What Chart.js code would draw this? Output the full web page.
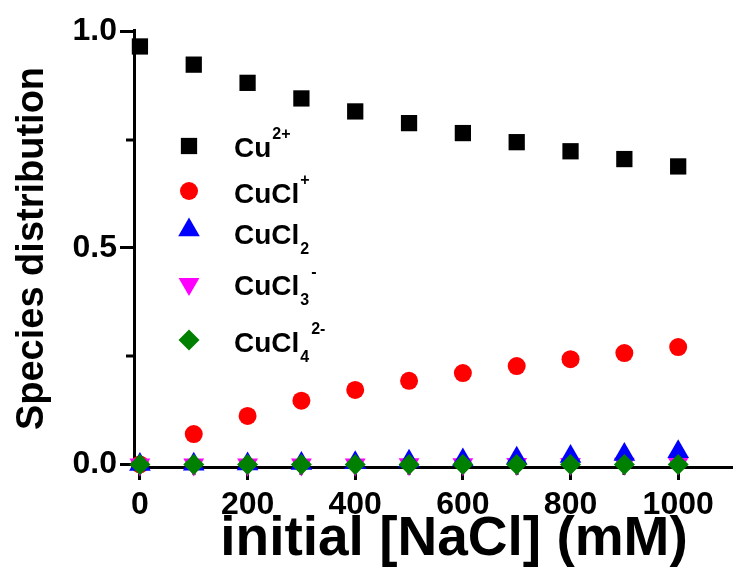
<!DOCTYPE html>
<html>
<head>
<meta charset="utf-8">
<script src="https://cdn.jsdelivr.net/npm/chart.js@4/dist/chart.umd.min.js"></script>
<style>
html, body { margin: 0; padding: 0; background: #fff; }
</style>
</head>
<body>
<canvas id="chart" width="734" height="569"></canvas>
<script>
// initial NaCl concentration (mM) and the species fractions
const nacl = [0, 100, 200, 300, 400, 500, 600, 700, 800, 900, 1000];
const cu2 = [0.965, 0.923, 0.881, 0.845, 0.815, 0.788, 0.765, 0.744, 0.723, 0.705, 0.688];
const cucl = [0, 0.07, 0.112, 0.147, 0.172, 0.193, 0.211, 0.227, 0.243, 0.257, 0.271];
const cucl2 = [0, 0.0005, 0.001, 0.002, 0.004, 0.007, 0.010, 0.014, 0.018, 0.023, 0.029];
const cucl3 = [0, 0, 0, 0, 0, 0.0005, 0.0005, 0.001, 0.001, 0.0015, 0.002];
const cucl4 = [0, 0, 0, 0, 0, 0, 0, 0, 0, 0, 0];

const xTicks = [0, 200, 400, 600, 800, 1000];
const xMinorTicks = [100, 300, 500, 700, 900];
const yTicks = [0, 0.5, 1.0];
const yMinorTicks = [0.25, 0.75];

// legend names, split so the charges and counts can be drawn raised / lowered
const legendNames = [
    {base: 'Cu', sup: '2+'},
    {base: 'CuCl', sup: '+'},
    {base: 'CuCl', sub: '2'},
    {base: 'CuCl', sub: '3', sup: '-'},
    {base: 'CuCl', sub: '4', sup: '2-'}
];

const FONT = "'Liberation Sans', Arial, Helvetica, sans-serif";

function series(values) {
    return values.map((v, i) => ({x: nacl[i], y: v}));
}

function makeSet(label, values, color, style, radius, rotation, order) {
    return {
        label: label,
        data: series(values),
        pointStyle: style,
        pointRadius: radius,
        pointRotation: rotation,
        pointBackgroundColor: color,
        pointBorderWidth: 0,
        backgroundColor: color,
        borderColor: color,
        showLine: false,
        clip: false,
        order: order
    };
}

const datasets = [
    makeSet('Cu²⁺', cu2, '#000000', 'rect', 11.5, 0, 4),
    makeSet('CuCl⁺', cucl, '#ff0000', 'circle', 9, 0, 3),
    makeSet('CuCl₂', cucl2, '#0000ff', 'triangle', 12.5, 0, 1),
    makeSet('CuCl₃⁻', cucl3, '#ff00ff', 'triangle', 12, 180, 2),
    makeSet('CuCl₄²⁻', cucl4, '#008000', 'rectRot', 10.5, 0, 0)
];

// minor ticks, shorter than the major ones
const minorTicks = {
    id: 'minorTicks',
    beforeDatasetsDraw(chart) {
        const ctx = chart.ctx;
        const area = chart.chartArea;
        const xs = chart.scales.x, ys = chart.scales.y;
        ctx.save();
        ctx.strokeStyle = '#000';
        ctx.lineWidth = 3;
        xMinorTicks.forEach(v => {
            const px = Math.round(xs.getPixelForValue(v));
            ctx.beginPath();
            ctx.moveTo(px, area.bottom);
            ctx.lineTo(px, area.bottom + 8);
            ctx.stroke();
        });
        yMinorTicks.forEach(v => {
            const py = Math.round(ys.getPixelForValue(v));
            ctx.beginPath();
            ctx.moveTo(area.left, py);
            ctx.lineTo(area.left - 8, py);
            ctx.stroke();
        });
        ctx.restore();
    }
};

// legend drawn inside the plot, with super/subscripts
const symbolYs = [146, 191, 230, 284, 340];
const textYs = [147, 193, 234, 285, 342];
const innerLegend = {
    id: 'innerLegend',
    afterDraw(chart) {
        const ctx = chart.ctx;
        ctx.save();
        chart.data.datasets.forEach((ds, i) => {
            ctx.fillStyle = ds.pointBackgroundColor;
            Chart.helpers.drawPoint(ctx, {
                pointStyle: ds.pointStyle,
                radius: ds.pointRadius,
                rotation: ds.pointRotation,
                borderWidth: 0
            }, 189, symbolYs[i]);

            const name = legendNames[i];
            const baseY = textYs[i] + 10;
            ctx.fillStyle = '#000';
            ctx.textBaseline = 'alphabetic';
            ctx.textAlign = 'left';
            ctx.font = 'bold 28px ' + FONT;
            ctx.fillText(name.base, 234, baseY);
            let x = 234 + ctx.measureText(name.base).width + 1;
            ctx.font = 'bold 16px ' + FONT;
            let after = x;
            if (name.sub) {
                ctx.fillText(name.sub, x, baseY + 10);
                after = x + ctx.measureText(name.sub).width + 2;
            }
            if (name.sup) {
                ctx.fillText(name.sup, after, baseY - 18);
            }
        });
        ctx.restore();
    }
};

const xTitle = {
    id: 'xTitle',
    afterDraw(chart) {
        const ctx = chart.ctx;
        ctx.save();
        ctx.fillStyle = '#000';
        ctx.font = 'bold 55px ' + FONT;
        ctx.textAlign = 'center';
        ctx.textBaseline = 'middle';
        ctx.fillText('initial [NaCl] (mM)', 454, 540);
        ctx.restore();
    }
};

const tickFont = {family: FONT, size: 32, weight: 'bold'};

new Chart(document.getElementById('chart'), {
    type: 'scatter',
    data: {datasets: datasets},
    options: {
        responsive: false,
        animation: false,
        events: [],
        layout: {autoPadding: false, padding: {top: 30, right: 2, bottom: 0, left: 0}},
        plugins: {
            legend: {display: false},
            tooltip: {enabled: false}
        },
        scales: {
            x: {
                type: 'linear',
                min: -11,
                max: 1100,
                afterBuildTicks: s => { s.ticks = xTicks.map(v => ({value: v})); },
                afterFit: s => { s.height = 102; },
                border: {display: true, color: '#000', width: 3},
                grid: {display: true, drawOnChartArea: false, drawTicks: true, tickLength: 13, tickWidth: 3, tickColor: '#000'},
                ticks: {color: '#000', font: tickFont, padding: 6, maxRotation: 0, autoSkip: false, callback: v => String(v)}
            },
            y: {
                type: 'linear',
                min: -0.006,
                max: 1.003,
                afterBuildTicks: s => { s.ticks = yTicks.map(v => ({value: v})); },
                afterFit: s => { s.width = 134; },
                border: {display: true, color: '#000', width: 3},
                grid: {display: true, drawOnChartArea: false, drawTicks: true, tickLength: 14, tickWidth: 3, tickColor: '#000'},
                ticks: {color: '#000', font: tickFont, padding: 3, callback: v => v.toFixed(1)},
                title: {
                    display: true,
                    text: 'Species distribution',
                    color: '#000',
                    font: {family: FONT, size: 38, weight: 'bold'},
                    padding: {top: 10, bottom: 0}
                }
            }
        }
    },
    plugins: [minorTicks, innerLegend, xTitle]
});
</script>
</body>
</html>
